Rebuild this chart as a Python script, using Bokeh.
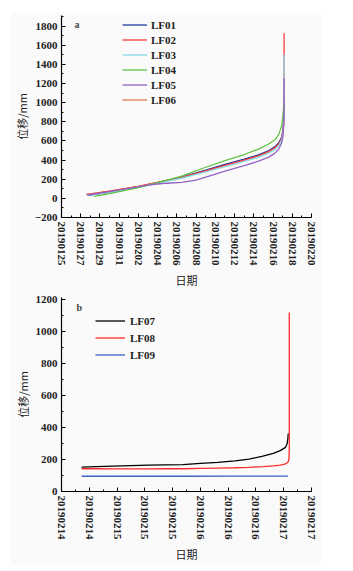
from bokeh.plotting import figure
from bokeh.layouts import column
from bokeh.models import FixedTicker, Legend, LegendItem, Label, Range1d
from bokeh.embed import file_html
from bokeh.resources import INLINE

# ---------------- Panel a data (x = days since 2019-01-25) ----------------
a_tick_days = [0, 2, 4, 6, 8, 10, 12, 14, 16, 18, 20, 22, 24, 26]
a_tick_labels = ["20190125", "20190127", "20190129", "20190131", "20190202",
                 "20190204", "20190206", "20190208", "20190210", "20190212",
                 "20190214", "20190216", "20190218", "20190220"]

lf01_days = [2.8, 5, 8, 10, 12.5, 15, 17, 19, 20.5, 21.5, 22.2, 22.6, 22.9, 23.05, 23.12, 23.15, 23.15]
lf01_vals = [30, 65, 120, 165, 222, 295, 355, 410, 455, 495, 540, 580, 640, 720, 850, 960, 1100]

lf02_days = [2.6, 5, 8, 10, 12.5, 15, 17, 19, 20.5, 21.5, 22.2, 22.6, 22.9, 23.05, 23.12, 23.15, 23.15]
lf02_vals = [40, 75, 125, 168, 218, 288, 345, 400, 445, 485, 528, 568, 628, 705, 830, 950, 1725]

lf03_days = [2.7, 5, 8, 10, 12.5, 15, 17, 19, 20.5, 21.5, 22.2, 22.6, 22.9, 23.05, 23.12, 23.15, 23.15]
lf03_vals = [30, 62, 115, 160, 210, 276, 332, 386, 430, 470, 512, 552, 612, 690, 815, 940, 1500]

lf04_days = [3.4, 5, 8, 10, 12.5, 15, 17, 19, 20.5, 21.5, 22.2, 22.6, 22.9, 23.0, 23.08, 23.1]
lf04_vals = [20, 50, 112, 165, 233, 325, 395, 458, 515, 565, 612, 668, 760, 840, 920, 975]

lf05_days = [2.7, 5, 8, 9, 10, 11, 12.5, 14, 15, 17, 19, 20.5, 21.5, 22.2, 22.6, 22.9, 23.05, 23.12, 23.15, 23.15]
lf05_vals = [35, 70, 122, 138, 150, 158, 167, 190, 222, 285, 343, 388, 428, 472, 515, 580, 660, 790, 920, 1256]

lf06_days = [2.6, 5, 8, 10, 12.5, 15, 17, 19, 20.5, 21.5, 22.2, 22.6, 22.9, 23.05, 23.12, 23.15]
lf06_vals = [42, 76, 126, 168, 220, 290, 348, 402, 447, 487, 530, 570, 630, 705, 820, 900]

# ---------------- Panel b data (x = hours since 2019-02-14 08:00) ----------------
b_tick_hours = [0, 8, 16, 24, 32, 40, 48, 56, 64, 72]
b_tick_labels = ["20190214", "20190214", "20190215", "20190215", "20190215",
                 "20190216", "20190216", "20190216", "20190217", "20190217"]

lf07_hours = [5.8, 10, 15, 20, 25, 30, 35, 40, 45, 50, 54, 58, 61, 63, 64.5, 65.0, 65.2, 65.3]
lf07_vals = [152, 155, 158, 161, 164, 166, 168, 175, 182, 191, 202, 220, 238, 255, 275, 300, 330, 362]

lf08_hours = [5.8, 10, 15, 20, 25, 30, 35, 40, 45, 50, 54, 58, 61, 63, 64.5, 65.2, 65.5, 65.6, 65.6]
lf08_vals = [142, 142, 141, 141, 141, 142, 142, 144, 146, 148, 151, 155, 160, 165, 172, 182, 200, 260, 1117]

lf09_hours = [5.8, 20, 35, 50, 65.2]
lf09_vals = [95, 95, 95, 96, 96]

BG = "#fafafa"
SERIF = "Liberation Serif"
CJK = "Noto Sans CJK SC"


def style(p):
    p.background_fill_color = BG
    p.border_fill_color = BG
    p.outline_line_color = None
    p.xgrid.visible = False
    p.ygrid.visible = False
    for ax in (p.xaxis[0], p.yaxis[0]):
        ax.axis_line_color = "black"
        ax.axis_line_width = 1.2
        ax.major_tick_in = 4
        ax.major_tick_out = 0
        ax.minor_tick_in = 2
        ax.minor_tick_out = 0
        ax.major_tick_line_color = "black"
        ax.minor_tick_line_color = "black"
        ax.major_label_text_font = SERIF
        ax.major_label_text_font_style = "bold"
        ax.major_label_text_font_size = "11px"
        ax.major_label_text_color = "#222222"
        ax.major_label_standoff = 4
        ax.axis_label_text_font = CJK
        ax.axis_label_text_font_style = "normal"
        ax.axis_label_text_font_size = "11px"
        ax.axis_label_text_color = "#222222"
    p.xaxis[0].major_label_orientation = "vertical"
    p.xaxis[0].axis_label_standoff = 3
    p.yaxis[0].axis_label_standoff = 2
    p.xaxis[0].axis_label = "日期"
    p.yaxis[0].axis_label = "位移/mm"


# ---------------- Figure a ----------------
pa = figure(width=311, height=278, output_backend="svg", toolbar_location=None,
            x_range=Range1d(0, 26), y_range=Range1d(-200, 1910),
            min_border_left=47, min_border_right=8, min_border_top=3, min_border_bottom=68)
style(pa)
pa.xaxis[0].ticker = FixedTicker(ticks=a_tick_days, minor_ticks=[d + 1 for d in a_tick_days[:-1]])
pa.xaxis[0].major_label_overrides = {d: s for d, s in zip(a_tick_days, a_tick_labels)}
a_yticks = list(range(-200, 2000, 200))
pa.yaxis[0].ticker = FixedTicker(ticks=a_yticks, minor_ticks=[v + 100 for v in a_yticks])

a_series = [
    ("LF01", lf01_days, lf01_vals, "#1f3c9e"),
    ("LF02", lf02_days, lf02_vals, "#ff3b3b"),
    ("LF03", lf03_days, lf03_vals, "#86d9e3"),
    ("LF04", lf04_days, lf04_vals, "#62c246"),
    ("LF05", lf05_days, lf05_vals, "#9263c4"),
    ("LF06", lf06_days, lf06_vals, "#e07a52"),
]
a_renderers = {}
for name in ["LF06", "LF01", "LF02", "LF03", "LF04", "LF05"]:
    for n, xs, ys, c in a_series:
        if n == name:
            a_renderers[n] = pa.line(xs, ys, line_color=c, line_width=1.3)
a_items = [LegendItem(label=n, renderers=[a_renderers[n]]) for n, _, _, _ in a_series]
leg_a = Legend(items=a_items, location=(61, 110), orientation="vertical",
               background_fill_alpha=0, border_line_color=None,
               padding=0, margin=0, spacing=0, glyph_width=25, glyph_height=15,
               label_height=15, label_standoff=4,
               label_text_font=SERIF, label_text_font_style="bold",
               label_text_font_size="11px", label_text_color="#222222")
pa.add_layout(leg_a)
pa.add_layout(Label(x=1.6, y=1816, text="a", text_font=SERIF, text_font_style="bold",
                    text_font_size="10px", text_align="center", text_baseline="middle"))

# ---------------- Figure b ----------------
pb = figure(width=311, height=275, output_backend="svg", toolbar_location=None,
            x_range=Range1d(0, 72), y_range=Range1d(0, 1210),
            min_border_left=47, min_border_right=10, min_border_top=7, min_border_bottom=74)
style(pb)
pb.xaxis[0].ticker = FixedTicker(ticks=b_tick_hours, minor_ticks=[h + 4 for h in b_tick_hours[:-1]])
pb.xaxis[0].major_label_overrides = {h: s for h, s in zip(b_tick_hours, b_tick_labels)}
b_yticks = list(range(0, 1400, 200))
pb.yaxis[0].ticker = FixedTicker(ticks=b_yticks, minor_ticks=[v + 100 for v in b_yticks])

b_series = [
    ("LF07", lf07_hours, lf07_vals, "#000000"),
    ("LF08", lf08_hours, lf08_vals, "#ff2a2a"),
    ("LF09", lf09_hours, lf09_vals, "#3a64c4"),
]
b_items = []
for n, xs, ys, c in b_series:
    r = pb.line(xs, ys, line_color=c, line_width=1.3)
    b_items.append(LegendItem(label=n, renderers=[r]))
leg_b = Legend(items=b_items, location=(34, 128), orientation="vertical",
               background_fill_alpha=0, border_line_color=None,
               padding=0, margin=0, spacing=0, glyph_width=30, glyph_height=17,
               label_height=17, label_standoff=5,
               label_text_font=SERIF, label_text_font_style="bold",
               label_text_font_size="11px", label_text_color="#222222")
pb.add_layout(leg_b)
pb.add_layout(Label(x=5.1, y=1148, text="b", text_font=SERIF, text_font_style="bold",
                    text_font_size="10px", text_align="center", text_baseline="middle"))

layout = column(pa, pb, spacing=0, margin=(12, 0, 0, 10))
open("out.html", "w").write(file_html(layout, INLINE))
